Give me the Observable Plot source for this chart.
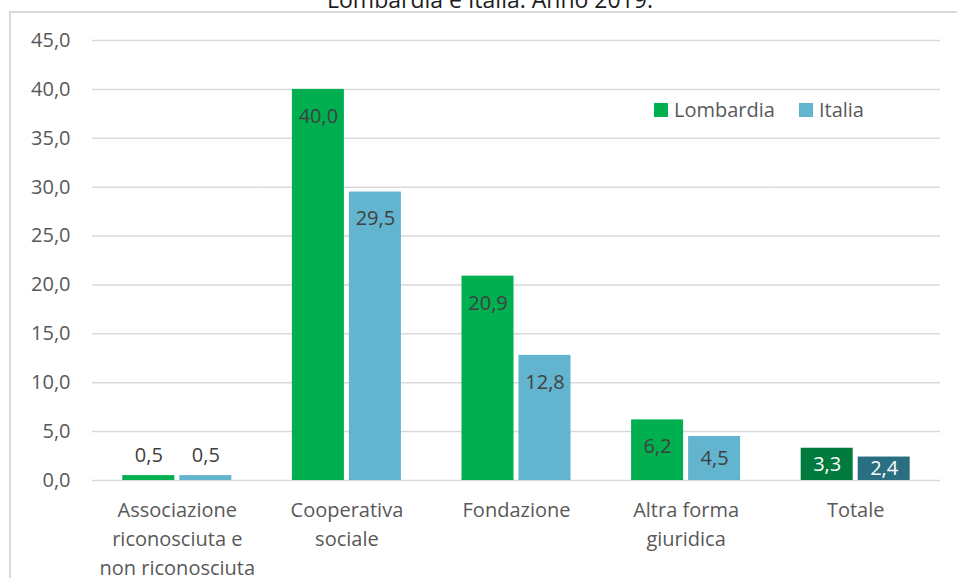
<!DOCTYPE html>
<html><head><meta charset="utf-8">
<script src="https://cdn.jsdelivr.net/npm/d3@7"></script>
<script src="https://cdn.jsdelivr.net/npm/@observablehq/plot@0.6"></script>
<style>
html,body{margin:0;padding:0;background:#fff;}
body{width:957px;height:578px;overflow:hidden;position:relative;font-family:"Open Sans",sans-serif;}
#frame{position:absolute;left:9px;top:11px;width:1000px;height:700px;border:2px solid #d9d9d9;box-sizing:border-box;}
#title{position:absolute;left:0;width:980px;top:-12px;text-align:center;font-size:23px;line-height:23px;color:#1e1e1e;white-space:nowrap;}
#chart{position:absolute;left:0;top:0;}
#legend{position:absolute;left:654px;top:96px;display:flex;align-items:center;font-size:20px;line-height:28px;color:#595959;}
#legend .item{display:flex;align-items:center;margin-right:24px;}
#legend .sw{width:14px;height:14px;display:inline-block;margin-right:6px;}
</style></head>
<body>
<div id="frame"></div>
<div id="title">Lombardia e Italia. Anno 2019.</div>
<div id="chart"></div>
<div id="legend"></div>
<script>
const categories = ["Associazione\nriconosciuta e\nnon riconosciuta", "Cooperativa\nsociale", "Fondazione", "Altra forma\ngiuridica", "Totale"];
const series = ["Lombardia", "Italia"];
const lombardia = [0.5, 40.0, 20.9, 6.2, 3.3];
const italia = [0.5, 29.5, 12.8, 4.5, 2.4];
const yTicks = [0, 5, 10, 15, 20, 25, 30, 35, 40, 45];
const colors = {Lombardia: "#00B050", Italia: "#63B4CF"};
const totalColors = {Lombardia: "#007A3D", Italia: "#296E81"};

const values = {Lombardia: lombardia, Italia: italia};
const data = categories.flatMap((c, i) => series.map(s => ({cat: c, series: s, value: values[s][i]})));
const isTotal = d => d.cat === "Totale";
const fmt = v => v.toFixed(1).replace(".", ",");
const labelFill = d => isTotal(d) ? "#ffffff" : "#404040";

const chart = Plot.plot({
  width: 957, height: 578,
  marginTop: 40, marginBottom: 98, marginLeft: 92, marginRight: 17,
  style: {fontFamily: "'Open Sans', sans-serif", fontSize: "20px", color: "#595959", background: "transparent"},
  fx: {domain: categories, padding: 0, label: null, round: false},
  x: {domain: series, paddingInner: 0.0877, paddingOuter: 0.5316, axis: null, round: false},
  y: {domain: [0, 45]},
  color: {type: "identity"},
  marks: [
    Plot.gridY(yTicks, {stroke: "#d9d9d9", strokeOpacity: 1, strokeWidth: 1.5}),
    Plot.axisY(yTicks, {tickSize: 0, tickPadding: 22, tickFormat: fmt, fontSize: 20, fill: "#595959", label: null}),
    Plot.axisFx({anchor: "bottom", tickSize: 0, tickPadding: 16, fontSize: 20, lineHeight: 1.45, fill: "#595959", label: null}),
    Plot.barY(data, {fx: "cat", x: "series", y: "value", fill: d => isTotal(d) ? totalColors[d.series] : colors[d.series]}),
    Plot.text(data.filter(d => d.value >= 5), {fx: "cat", x: "series", y: "value", text: d => fmt(d.value), dy: 27, fill: labelFill, fontSize: 20}),
    Plot.text(data.filter(d => d.value >= 1 && d.value < 5), {fx: "cat", x: "series", y: d => d.value / 2, text: d => fmt(d.value), fill: labelFill, fontSize: 20}),
    Plot.text(data.filter(d => d.value < 1), {fx: "cat", x: "series", y: "value", text: d => fmt(d.value), dy: -20, fill: labelFill, fontSize: 20})
  ]
});
document.getElementById("chart").appendChild(chart);

const legend = document.getElementById("legend");
series.forEach(s => {
  const item = document.createElement("span");
  item.className = "item";
  const sw = document.createElement("span");
  sw.className = "sw";
  sw.style.background = colors[s];
  item.appendChild(sw);
  item.appendChild(document.createTextNode(s));
  legend.appendChild(item);
});
</script>
</body></html>
